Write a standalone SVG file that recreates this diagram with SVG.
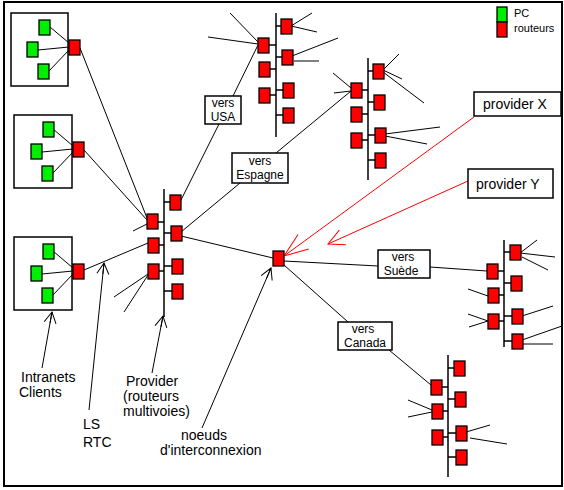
<svg xmlns="http://www.w3.org/2000/svg" width="564" height="490" viewBox="0 0 564 490">
<style>
.pc{fill:#00ee00;stroke:#000;stroke-width:1.3}
.rt{fill:#ff0000;stroke:#000;stroke-width:1.3}
.box{fill:#fff;stroke:#000;stroke-width:1.5}
.cbox{fill:none;stroke:#000;stroke-width:1.5}
.bus{stroke:#000;stroke-width:1.5;fill:none}
.ln{stroke:#000;stroke-width:1;fill:none}
.red{stroke:#ff0000;stroke-width:1;fill:none}
.t{font-family:"Liberation Sans",Arial,sans-serif;font-size:14px;fill:#000}
.tb{font-family:"Liberation Sans",Arial,sans-serif;font-size:12px;fill:#000;text-anchor:middle}
.tl{font-family:"Liberation Sans",Arial,sans-serif;font-size:11px;fill:#000}
</style>
<defs>
<marker id="ab" markerUnits="userSpaceOnUse" orient="auto" markerWidth="20" markerHeight="20" refX="0" refY="0" viewBox="-16 -10 20 20" style="overflow:visible"><path d="M-11,-6 L0,0 L-11,6 M-11,0 L0,0" stroke="#000" stroke-width="1" fill="none"/></marker>
<marker id="arb" markerUnits="userSpaceOnUse" orient="auto" markerWidth="30" markerHeight="30" refX="0" refY="0" viewBox="-28 -14 30 30" style="overflow:visible"><path d="M-24,-9 L0,0 L-24,9" stroke="#ff0000" stroke-width="1" fill="none"/></marker>
<marker id="ars" markerUnits="userSpaceOnUse" orient="auto" markerWidth="24" markerHeight="24" refX="0" refY="0" viewBox="-20 -12 24 24" style="overflow:visible"><path d="M-16,-8 L0,0 L-16,8" stroke="#ff0000" stroke-width="1" fill="none"/></marker>
</defs>
<rect x="0" y="0" width="564" height="490" fill="#fff"/>
<rect x="4" y="2" width="558" height="484" fill="none" stroke="#000" stroke-width="2"/>

<g id="connectors">
<!-- client internal -->
<path class="ln" d="M50,27 L69,43 M38,50 L69,47 M49,71 L69,50"/>
<path class="ln" d="M53,129 L73,146 M42,152 L73,149 M53,173 L73,152"/>
<path class="ln" d="M53,251 L73,268 M42,274 L73,271 M53,295 L73,274"/>
<!-- clients to provider -->
<path class="ln" d="M80,48 L147,218"/>
<path class="ln" d="M84,150 L147,220"/>
<path class="ln" d="M133,231 L147,224"/>
<path class="ln" d="M84,270 L148,243"/>
<path class="ln" d="M148,274 L114,297 M148,275 L124,312"/>
<!-- provider to regions -->
<path class="ln" d="M180,202 L219,124 M233,96 L258,45"/>
<path class="ln" d="M181,232 L240,183 M276,153 L351,91"/>
<path class="ln" d="M181,236 L273,258"/>
<path class="ln" d="M284,261 L378,266 M430,267 L487,271"/>
<path class="ln" d="M284,265 L348,322 M389,350 L431,385"/>
<!-- USA stubs -->
<path class="ln" d="M230,13 L258,42 M208,37 L258,44"/>
<path class="ln" d="M291,26 L312,13 M291,26 L317,32"/>
<path class="ln" d="M292,56 L338,38 M294,61 L319,61"/>
<!-- Espagne stubs -->
<path class="ln" d="M333,73 L351,88 M334,93 L351,91"/>
<path class="ln" d="M383,70 L399,54 M383,70 L402,79 M383,72 L424,103"/>
<path class="ln" d="M385,134 L440,127 M385,136 L427,144"/>
<!-- Suede stubs -->
<path class="ln" d="M520,253 L537,240 M520,253 L555,257 M522,257 L548,270"/>
<path class="ln" d="M468,289 L488,296"/>
<path class="ln" d="M468,314 L488,321 M469,327 L488,321"/>
<path class="ln" d="M522,316 L553,306"/>
<path class="ln" d="M522,340 L562,326 M522,344 L553,344"/>
<!-- Canada stubs -->
<path class="ln" d="M408,400 L432,410 M408,417 L432,412"/>
<path class="ln" d="M466,432 L490,425 M470,438 L507,444"/>
<!-- red provider arrows -->
<path class="red" d="M474,117 L284,256" marker-end="url(#arb)"/>
<path class="red" d="M468,181 L328,244" marker-end="url(#ars)"/>
<!-- label arrows -->
<path class="ln" d="M42,368 L52,312" marker-end="url(#ab)"/>
<path class="ln" d="M89,410 L104,263" marker-end="url(#ab)"/>
<path class="ln" d="M152,373 L163,316" marker-end="url(#ab)"/>
<path class="ln" d="M202,428 L271,268" marker-end="url(#ab)"/>
</g>

<g id="client1">
<rect class="cbox" x="11" y="13" width="57" height="73"/>
<rect class="pc" x="39" y="20" width="11" height="15"/>
<rect class="pc" x="27" y="42" width="11" height="15"/>
<rect class="pc" x="38" y="64" width="11" height="15"/>
<rect class="rt" x="69" y="40" width="11" height="15"/>
</g>
<g id="client2">
<rect class="cbox" x="14" y="115" width="58" height="73"/>
<rect class="pc" x="43" y="122" width="11" height="15"/>
<rect class="pc" x="31" y="144" width="11" height="15"/>
<rect class="pc" x="42" y="166" width="11" height="15"/>
<rect class="rt" x="73" y="142" width="11" height="15"/>
</g>
<g id="client3">
<rect class="cbox" x="14" y="237" width="58" height="73"/>
<rect class="pc" x="43" y="244" width="11" height="15"/>
<rect class="pc" x="31" y="266" width="11" height="15"/>
<rect class="pc" x="42" y="288" width="11" height="15"/>
<rect class="rt" x="73" y="264" width="11" height="15"/>
</g>

<g id="provider">
<path class="bus" d="M164,189 V317 M158,222 H164 M158,245 H164 M158,271 H164 M164,202 H170 M164,233 H171 M164,266 H172 M164,291 H172"/>
<rect class="rt" x="147" y="214" width="11" height="15"/>
<rect class="rt" x="148" y="238" width="11" height="15"/>
<rect class="rt" x="148" y="264" width="11" height="15"/>
<rect class="rt" x="170" y="195" width="11" height="15"/>
<rect class="rt" x="171" y="226" width="11" height="15"/>
<rect class="rt" x="172" y="259" width="11" height="15"/>
<rect class="rt" x="172" y="284" width="11" height="15"/>
</g>

<g id="usa">
<path class="bus" d="M276,13 V137 M269,45 H276 M270,69 H276 M270,95 H276 M276,26 H281 M276,57 H282 M276,90 H283 M276,115 H283"/>
<rect class="rt" x="258" y="38" width="11" height="15"/>
<rect class="rt" x="259" y="62" width="11" height="15"/>
<rect class="rt" x="259" y="88" width="11" height="15"/>
<rect class="rt" x="281" y="19" width="11" height="15"/>
<rect class="rt" x="282" y="50" width="11" height="15"/>
<rect class="rt" x="283" y="83" width="11" height="15"/>
<rect class="rt" x="283" y="108" width="11" height="15"/>
</g>

<g id="espagne">
<path class="bus" d="M368,58 V180 M362,90 H368 M362,114 H368 M362,140 H368 M368,71 H373 M368,102 H374 M368,135 H375 M368,160 H375"/>
<rect class="rt" x="351" y="83" width="11" height="15"/>
<rect class="rt" x="351" y="107" width="11" height="15"/>
<rect class="rt" x="351" y="133" width="11" height="15"/>
<rect class="rt" x="373" y="64" width="11" height="15"/>
<rect class="rt" x="374" y="95" width="11" height="15"/>
<rect class="rt" x="375" y="128" width="11" height="15"/>
<rect class="rt" x="375" y="153" width="11" height="15"/>
</g>

<g id="suede">
<path class="bus" d="M504,240 V347 M498,271 H504 M499,295 H504 M499,321 H504 M504,252 H510 M504,283 H511 M504,316 H512 M504,341 H512"/>
<rect class="rt" x="487" y="264" width="11" height="15"/>
<rect class="rt" x="488" y="288" width="11" height="15"/>
<rect class="rt" x="488" y="314" width="11" height="15"/>
<rect class="rt" x="510" y="245" width="11" height="15"/>
<rect class="rt" x="511" y="276" width="11" height="15"/>
<rect class="rt" x="512" y="309" width="11" height="15"/>
<rect class="rt" x="512" y="334" width="11" height="15"/>
</g>

<g id="canada">
<path class="bus" d="M448,355 V477 M442,387 H448 M443,411 H448 M443,437 H448 M448,368 H454 M448,399 H455 M448,433 H456 M448,457 H456"/>
<rect class="rt" x="431" y="380" width="11" height="15"/>
<rect class="rt" x="432" y="404" width="11" height="15"/>
<rect class="rt" x="432" y="430" width="11" height="15"/>
<rect class="rt" x="454" y="361" width="11" height="15"/>
<rect class="rt" x="455" y="392" width="11" height="15"/>
<rect class="rt" x="456" y="426" width="11" height="15"/>
<rect class="rt" x="456" y="450" width="11" height="15"/>
</g>

<g id="interconnexion">
<rect class="rt" x="273" y="251" width="11" height="15"/>
</g>

<g id="label-usa">
<rect class="box" x="205" y="96" width="36" height="28"/>
<text class="tb" x="223" y="107">vers</text>
<text class="tb" x="223" y="121">USA</text>
</g>
<g id="label-espagne">
<rect class="box" x="232" y="153" width="56" height="30"/>
<text class="tb" x="260" y="165">vers</text>
<text class="tb" x="260" y="179">Espagne</text>
</g>
<g id="label-suede">
<rect class="box" x="378" y="250" width="52" height="28"/>
<text class="tb" x="403" y="261">vers</text>
<text class="tb" x="401" y="275">Suède</text>
</g>
<g id="label-canada">
<rect class="box" x="338" y="322" width="54" height="28"/>
<text class="tb" x="363" y="333">vers</text>
<text class="tb" x="365" y="347">Canada</text>
</g>
<g id="provider-x">
<rect class="box" x="474" y="92" width="87" height="24"/>
<text class="t" x="483" y="109">provider X</text>
</g>
<g id="provider-y">
<rect class="box" x="468" y="169" width="85" height="29"/>
<text class="t" x="476" y="189">provider Y</text>
</g>

<g id="legend">
<rect class="pc" x="497" y="7" width="10" height="15"/>
<rect class="rt" x="497" y="22" width="10" height="15"/>
<text class="tl" x="514" y="17">PC</text>
<text class="tl" x="514" y="32">routeurs</text>
</g>

<g id="labels">
<text class="t" x="21" y="382">Intranets</text>
<text class="t" x="19" y="397">Clients</text>
<text class="t" x="83" y="429">LS</text>
<text class="t" x="83" y="447">RTC</text>
<text class="t" x="126" y="386">Provider</text>
<text class="t" x="123" y="401">(routeurs</text>
<text class="t" x="123" y="416">multivoies)</text>
<text class="t" x="181" y="440">noeuds</text>
<text class="t" x="160" y="455">d'interconnexion</text>
</g>
</svg>
